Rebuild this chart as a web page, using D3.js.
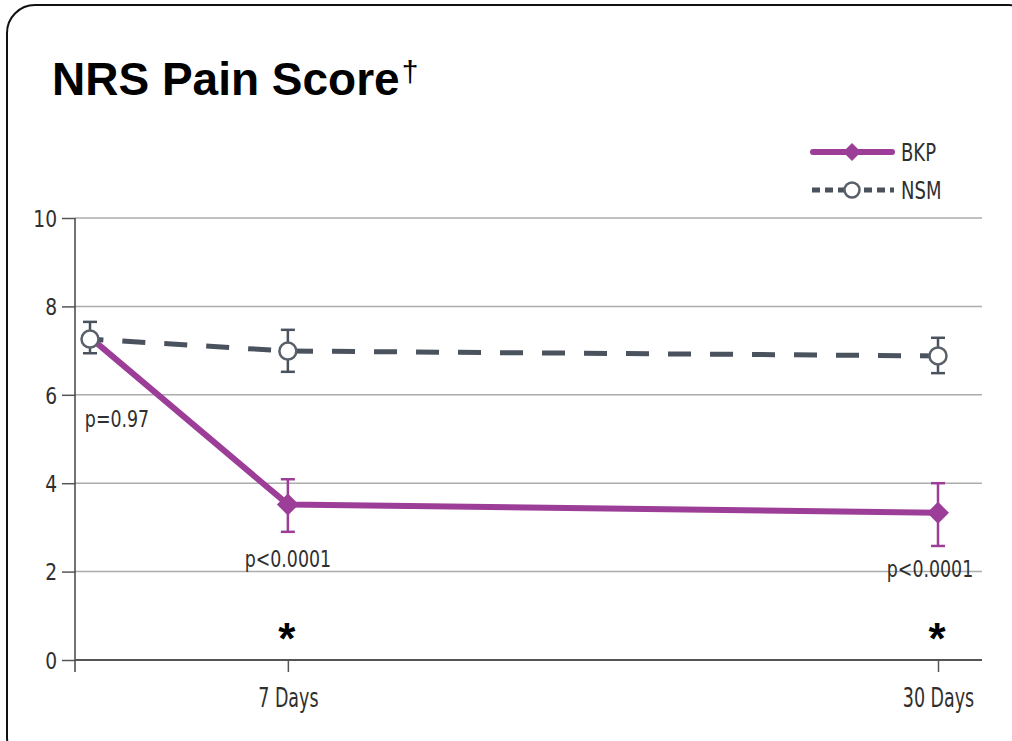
<!DOCTYPE html>
<html>
<head>
<meta charset="utf-8">
<script src="https://cdn.jsdelivr.net/npm/d3@7"></script>
<style>
  html, body { margin: 0; padding: 0; background: #fff; }
  svg { display: block; }
  .cond { font-family: "Liberation Sans Narrow", "DejaVu Sans Condensed", "Arial Narrow", sans-serif; }
</style>
</head>
<body>
<svg id="chart" width="1012" height="741"></svg>
<script>
// Follow-up time points (days after treatment) and their axis labels
const days = [0, 7, 30];
const tickDays = [7, 30];
const tickLabels = ["7 Days", "30 Days"];
const yTicks = [0, 2, 4, 6, 8, 10];

// Mean NRS pain score with upper / lower error limits
const bkpMean  = [7.3, 3.52, 3.33];
const bkpUpper = [7.65, 4.09, 4.0];
const bkpLower = [6.94, 2.90, 2.58];

const nsmMean  = [7.26, 6.99, 6.88];
const nsmUpper = [7.65, 7.47, 7.29];
const nsmLower = [6.94, 6.52, 6.49];

// Significance annotations
const pLabels = ["p=0.97", "p<0.0001", "p<0.0001"];
const starDays = [7, 30];

const BKP_COLOR = "#9c3e97";
const NSM_COLOR = "#4a525e";
const TEXT_COLOR = "#2f2f2f";

const svg = d3.select("#chart");

// Narrow the condensed labels horizontally so they read like a compressed face
function squeeze(sel, factor) {
  sel.each(function () {
    const w = this.getComputedTextLength();
    d3.select(this)
      .attr("textLength", w * factor)
      .attr("lengthAdjust", "spacingAndGlyphs");
  });
}

// Rounded frame
svg.append("rect")
  .attr("x", 7).attr("y", 5)
  .attr("width", 1030).attr("height", 760)
  .attr("rx", 28).attr("ry", 28)
  .attr("fill", "none").attr("stroke", "#111").attr("stroke-width", 2);

// Title
const title = svg.append("text")
  .attr("x", 52).attr("y", 95)
  .attr("font-family", "Liberation Sans, Arial, sans-serif")
  .attr("font-size", 46).attr("font-weight", "bold")
  .attr("fill", "#000")
  .text("NRS Pain Score");
title.append("tspan")
  .attr("dx", 2).attr("dy", -13).attr("font-size", 30).attr("font-weight", "normal")
  .text("\u2020");

// Scales
const x = d3.scaleLinear().domain([0, 30]).range([90, 938]);
const y = d3.scaleLinear().domain([0, 10]).range([660, 218]);
const plotLeft = 75, plotRight = 982;

// Horizontal gridlines
svg.append("g")
  .selectAll("line")
  .data(yTicks.filter(d => d > 0))
  .join("line")
  .attr("x1", plotLeft).attr("x2", plotRight)
  .attr("y1", d => y(d)).attr("y2", d => y(d))
  .attr("stroke", "#acacac").attr("stroke-width", 1.5);

// Y axis
const yAxis = svg.append("g")
  .attr("transform", `translate(${plotLeft},0)`)
  .call(d3.axisLeft(y).tickValues(yTicks).tickSize(13).tickPadding(5).tickFormat(d3.format("d")));
yAxis.select(".domain").remove();
yAxis.selectAll(".tick line").attr("stroke", "#555").attr("stroke-width", 1.5);
yAxis.selectAll(".tick text")
  .attr("class", "cond").attr("font-size", 23).attr("fill", TEXT_COLOR)
  .attr("dy", "0.36em")
  .call(squeeze, 0.9);
svg.append("line")
  .attr("x1", plotLeft).attr("x2", plotLeft)
  .attr("y1", y(10)).attr("y2", y(0) + 12)
  .attr("stroke", "#444").attr("stroke-width", 1.5);

// X axis
const xAxis = svg.append("g")
  .attr("transform", `translate(0,${y(0)})`)
  .call(d3.axisBottom(x).tickValues(tickDays).tickSize(12).tickPadding(16)
    .tickFormat((d, i) => tickLabels[i]));
xAxis.select(".domain").remove();
xAxis.selectAll(".tick line").attr("stroke", "#555").attr("stroke-width", 1.5);
xAxis.selectAll(".tick text")
  .attr("class", "cond").attr("font-size", 27).attr("fill", TEXT_COLOR)
  .call(squeeze, 0.72);
svg.append("line")
  .attr("x1", plotLeft).attr("x2", plotRight)
  .attr("y1", y(0)).attr("y2", y(0))
  .attr("stroke", "#555").attr("stroke-width", 2);

const line = d3.line().x(d => x(d.day)).y(d => y(d.v));
const bkp = days.map((d, i) => ({ day: d, v: bkpMean[i], hi: bkpUpper[i], lo: bkpLower[i] }));
const nsm = days.map((d, i) => ({ day: d, v: nsmMean[i], hi: nsmUpper[i], lo: nsmLower[i] }));

// Error bars
function errorBars(data, color) {
  const g = svg.append("g").attr("stroke", color).attr("stroke-width", 2.5).attr("fill", "none");
  g.selectAll("line.v").data(data).join("line").attr("class", "v")
    .attr("x1", d => x(d.day)).attr("x2", d => x(d.day))
    .attr("y1", d => y(d.hi)).attr("y2", d => y(d.lo));
  g.selectAll("line.t").data(data).join("line").attr("class", "t")
    .attr("x1", d => x(d.day) - 7).attr("x2", d => x(d.day) + 7)
    .attr("y1", d => y(d.hi)).attr("y2", d => y(d.hi));
  g.selectAll("line.b").data(data).join("line").attr("class", "b")
    .attr("x1", d => x(d.day) - 7).attr("x2", d => x(d.day) + 7)
    .attr("y1", d => y(d.lo)).attr("y2", d => y(d.lo));
}

// NSM dashed series
svg.append("path")
  .datum(nsm)
  .attr("d", line)
  .attr("fill", "none").attr("stroke", NSM_COLOR)
  .attr("stroke-width", 5)
  .attr("stroke-dasharray", "23,19").attr("stroke-dashoffset", 9.6);

// BKP solid series
svg.append("path")
  .datum(bkp)
  .attr("d", line)
  .attr("fill", "none").attr("stroke", BKP_COLOR)
  .attr("stroke-width", 6).attr("stroke-linejoin", "round");

errorBars(bkp.filter(d => d.day > 0), BKP_COLOR);
errorBars(nsm, NSM_COLOR);

const diamond = h => `M0,${-h}L${h},0L0,${h}L${-h},0Z`;

// BKP markers (the baseline point sits beneath the NSM marker)
svg.append("g").selectAll("path")
  .data(bkp.filter(d => d.day > 0))
  .join("path")
  .attr("transform", d => `translate(${x(d.day)},${y(d.v)})`)
  .attr("d", diamond(11))
  .attr("fill", BKP_COLOR);

// NSM markers
svg.append("g").selectAll("circle")
  .data(nsm)
  .join("circle")
  .attr("cx", d => x(d.day)).attr("cy", d => y(d.v))
  .attr("r", 8.5)
  .attr("fill", "#fff").attr("stroke", "#59606a").attr("stroke-width", 2.5);

// p-value labels
const pPos = [
  { x: 117, y: 427 },
  { x: x(7), y: 567 },
  { x: 930, y: 577 }
];
svg.append("g").selectAll("text")
  .data(pLabels)
  .join("text")
  .attr("class", "cond")
  .attr("x", (d, i) => pPos[i].x).attr("y", (d, i) => pPos[i].y)
  .attr("text-anchor", "middle")
  .attr("font-size", 23).attr("fill", TEXT_COLOR)
  .text(d => d)
  .call(squeeze, 0.84);

// Significance asterisks
svg.append("g").selectAll("text")
  .data(starDays)
  .join("text")
  .attr("x", d => x(d) - 1).attr("y", 654)
  .attr("text-anchor", "middle")
  .attr("font-family", "Liberation Sans, Arial, sans-serif")
  .attr("font-size", 44).attr("font-weight", "bold").attr("fill", "#000")
  .text("*");

// Legend
const legend = svg.append("g");
legend.append("line")
  .attr("x1", 813).attr("x2", 892).attr("y1", 152).attr("y2", 152)
  .attr("stroke", BKP_COLOR).attr("stroke-width", 6).attr("stroke-linecap", "round");
legend.append("path")
  .attr("transform", "translate(852,152)").attr("d", diamond(9)).attr("fill", BKP_COLOR);
legend.append("text").attr("class", "cond")
  .attr("x", 901).attr("y", 161).attr("font-size", 25).attr("fill", TEXT_COLOR).text("BKP")
  .call(squeeze, 0.8);

legend.append("line")
  .attr("x1", 812).attr("x2", 894).attr("y1", 190).attr("y2", 190)
  .attr("stroke", NSM_COLOR).attr("stroke-width", 5).attr("stroke-dasharray", "8,5");
legend.append("circle")
  .attr("cx", 852).attr("cy", 190).attr("r", 7.5)
  .attr("fill", "#fff").attr("stroke", "#59606a").attr("stroke-width", 2.5);
legend.append("text").attr("class", "cond")
  .attr("x", 901).attr("y", 199).attr("font-size", 25).attr("fill", TEXT_COLOR).text("NSM")
  .call(squeeze, 0.8);
</script>
</body>
</html>
